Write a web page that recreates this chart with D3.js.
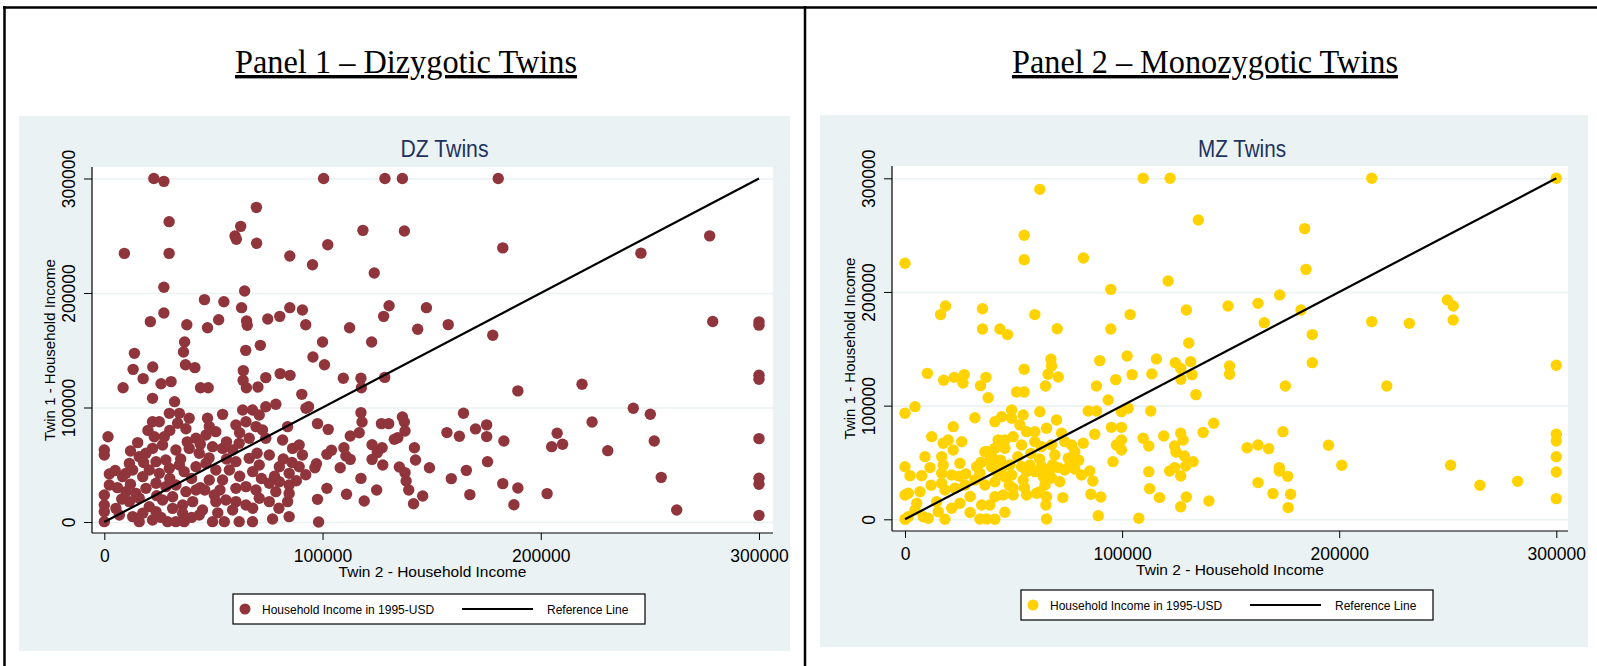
<!DOCTYPE html>
<html>
<head>
<meta charset="utf-8">
<script src="https://cdnjs.cloudflare.com/ajax/libs/d3/7.8.5/d3.min.js"></script>
<style>
  body { margin: 0; background: #fff; }
  svg { display: block; }
  .panel-title { font-family: "Liberation Serif", "Times New Roman", serif; text-decoration: underline; }
  .stata { font-family: "Liberation Sans", Arial, sans-serif; }
</style>
</head>
<body>
<div id="chart"></div>
<script>
// household income, twin 2 (x) vs twin 1 (y), 1995 USD
var dzPoints = [
  [22700,300000],[27300,297500],[100500,300000],[128600,300000],[136600,300000],
  [69700,274800],[29700,262300],[62500,258200],[59900,249800],[60500,246900],
  [118500,254700],[137500,254100],[9200,234600],[29700,234600],[69800,243400],
  [102400,242200],[85000,232300],[95400,224700],[123700,217500],[27300,205000],
  [64300,201700],[45900,194200],[54800,192400],[62900,187200],[27300,182500],
  [21100,175000],[37800,172300],[47300,169700],[52400,176700],[65200,175500],
  [65500,171800],[74900,177300],[80400,179600],[85000,187200],[90800,185200],
  [92300,172300],[112400,169700],[130500,188900],[128000,179600],[147600,187200],
  [143600,168300],[122500,157200],[100000,157200],[36800,157200],[36300,148500],
  [13800,147300],[64800,149900],[71500,154300],[95600,144100],[100900,137400],
  [13200,133300],[22200,135400],[37200,137400],[41500,134800],[17800,125200],
  [8600,117300],[26000,120800],[30600,122600],[44100,117300],[47600,117300],
  [63700,132200],[63600,123700],[65100,117300],[70400,117900],[74000,126100],
  [80600,129600],[85100,128100],[90500,111500],[93600,100700],[109500,125500],
  [117600,125500],[117800,117300],[128500,126300],
  [97700,85900],[102600,80900],[117600,95500],[118100,87300],[127000,85900],
  [130300,85900],[136600,91700],[137500,87300],[137800,79500],[112700,75100],
  [116800,78000],[132900,72200],[134500,73700],[122700,67500],[127300,64900],
  [125100,60600],[142100,64900],[142600,54100],[149000,47400],[104100,62600],
  [102000,59100],[109800,64900],[110700,57600],[112700,54700],[108100,47400],
  [122700,54700],[127600,49800],[135200,48000],[137800,43100],[117600,38100],
  [92300,41300],[97200,50900],[96500,47400],[102000,29400],[111000,24200],
  [119100,18300],[124800,27900],[138300,35800],[139500,27900],[145900,22700],
  [141700,16000],[97700,19800],[98200,0],
  [180500,300000],[182600,239400],[245900,234800],[277400,249900],[157600,172400],
  [178000,163100],[278800,175100],[300000,174800],[300000,171900],[189500,114500],
  [218900,120300],[300000,128200],[300000,124700],[164600,95000],[157000,78100],
  [162700,74900],[170100,81300],[175200,84800],[175200,74600],[183100,70800],
  [207500,77500],[205000,65800],[210000,67900],[223500,87400],[230700,62300],
  [242400,99300],[250200,94100],[252000,70800],[300000,72800],[159000,37900],
  [165900,45100],[175600,52700],[167500,23900],[182600,33500],[189500,29700],
  [187700,15100],[202900,24800],[255200,39000],[262300,10500],[300000,38200],
  [300000,32900],[300000,5800],
  [22100,108000],[32200,105100],[29800,94900],[34400,94900],[38900,90600],
  [37400,81500],[33600,86200],[22100,87600],[25200,87600],[47300,90600],
  [48100,83300],[54200,94000],[63400,97800],[67900,97800],[71000,93400],
  [74000,100700],[78600,102800],[60300,84700],[64900,87600],[69500,83300],
  [92400,99300],[1700,74500],[15300,69300],[22900,74500],[27500,74500],
  [22100,64300],[26700,67200],[0,62900],[0,58500],[42000,73100],
  [46600,76000],[51100,78900],[49600,65800],[54200,64300],[58800,62900],
  [61800,68700],[66400,73100],[72500,80300],[74000,73100],[81700,71600],
  [84000,83300],[86300,64300],[89300,67200],[90800,58500],[16000,57100],
  [19100,60000],[32800,62900],[38900,64300],[43500,60000],[23700,52700],
  [28200,54100],[34400,49800],[11500,51200],[9900,42500],[8400,39600],
  [2300,41900],[13000,45400],[17600,39600],[20600,45400],[25200,42500],
  [29800,46900],[36600,44000],[42000,48300],[46600,51200],[51100,45400],
  [57300,45400],[60300,52700],[66400,55600],[71000,49800],[75600,58500],
  [80200,48300],[84700,42500],[89300,48300],[2300,32300],[9900,26500],
  [14500,25000],[19100,29400],[23700,33800],[28200,30900],[32800,32300],
  [37400,26500],[42000,27900],[48100,36700],[54200,36700],[60300,29400],
  [64900,30900],[69500,27900],[75600,33800],[80200,35200],[84700,32300],
  [0,23600],[0,14800],[0,9000],[5300,11900],[11500,17800],
  [16000,20700],[20600,13400],[26700,19200],[31300,22100],[35900,14800],
  [40500,17800],[45000,10500],[50400,23600],[51100,17800],[55700,19200],
  [60300,17800],[64900,14800],[71000,20700],[75600,17800],[78600,26500],
  [84000,17800],[84700,25000],[6900,6100],[13000,4700],[17600,7600],
  [23700,9000],[31300,11900],[35900,7600],[43500,6100],[49600,300],
  [55000,300],[58800,10500],[61800,300],[67900,300],[77100,2600],
  [84700,4700],[0,300],[16000,300],[22100,1700],[29000,300],
  [32800,300],[36600,300],
  [5000,45000],[12000,33000],[18000,52000],[24000,23000],[30000,38000],
  [35000,55000],[40000,38000],[44000,30000],[48000,56000],[53000,28000],
  [56000,55000],[62000,40000],[68000,44000],[72000,38000],[78000,40000],
  [82000,55000],[86000,52000],[44000,68000],[56000,70000],[38000,70000],
  [30000,80000],[62000,78000],[70000,60000],[8000,20000],[26000,4000],
  [40000,4000],[46000,28000],[52000,8000],[68000,12000],[80000,12000],
  [88000,36000],[20000,80000],[12000,62000],[6000,30000]
];

var mzPoints = [
  [62100,290300],[109700,300000],[122100,300000],[135100,263300],[54900,249900],
  [54900,228400],[0,225200],[82200,229900],[121200,209700],[94800,202300],
  [148800,187700],[18700,187700],[16400,180100],[35700,185300],[35700,167400],
  [43700,167400],[47200,162500],[59800,180100],[70100,167700],[94800,167400],
  [103700,180100],[129600,184200],[130700,155100],[67200,140800],[67500,134900],
  [65900,127600],[70600,125200],[64700,117300],[54900,132000],[89700,139600],
  [97100,122900],[88200,117300],[102300,143700],[104600,127300],[115800,141100],
  [113700,127900],[124500,137800],[127000,132800],[127100,123200],[131600,138700],
  [132200,127300],[134000,109700],[149500,134900],[149500,127600],[10300,128400],
  [17800,122300],[22700,124900],[27300,127300],[26700,119900],[34800,117600],
  [37300,124900],[51400,112000],[54900,112000],
  [113200,95300],[142200,84500],[137300,76500],[109700,71300],[112300,64500],
  [119200,73300],[127000,75700],[128100,69800],[124200,64500],[124800,59200],
  [128700,55700],[132700,50700],[129300,46900],[121900,42500],[124200,45500],
  [127000,38100],[112300,41900],[112700,27000],[117200,19100],[129600,19600],
  [127000,11100],[140000,16100],[107700,900],
  [215000,300000],[300000,300000],[184100,255700],[184700,219900],[172600,197400],
  [162600,190000],[165500,173000],[182400,184200],[187600,162500],[187600,137800],
  [215000,173900],[232300,172400],[249800,193000],[252500,187700],[252500,175400],
  [175200,117300],[221900,117300],[300000,135500],
  [174100,77100],[157600,63000],[162600,65400],[167500,62200],[195100,65100],
  [172400,45500],[172400,42500],[176300,37800],[201200,47500],[162600,32300],
  [169500,22600],[177600,22000],[176500,10300],[251300,47500],[264800,29900],
  [282200,33400],[300000,74800],[300000,68900],[300000,55100],[300000,41600],
  [300000,18200],
  [0,93300],[4600,99100],[32200,89400],[22200,81500],[12300,72700],
  [17600,66900],[19900,69800],[26100,68300],[22200,61000],[38300,107000],
  [49100,96200],[44500,90300],[41400,85900],[49100,88900],[54400,91800],
  [62100,94700],[69800,87400],[52900,83000],[56000,77100],[59800,77100],
  [65200,80100],[72100,75700],[49800,72700],[46000,69800],[42900,69800],
  [41400,62500],[38300,59500],[46000,62500],[53700,65400],[59800,68300],
  [62900,63900],[67500,65400],[69000,56600],[73600,68300],[76700,65400],
  [78200,59500],[82100,66900],[75200,53700],[87400,74800],[84400,95300],
  [88200,95300],[93600,105000],[99700,94700],[95100,80900],[99700,80900],
  [99700,69800],[97400,65400],[99700,61000],[95800,50700],[102800,97700],
  [0,46300],[2300,38400],[7700,38400],[9200,55100],[11500,45500],
  [16900,55100],[17600,47800],[16900,40500],[21500,39000],[25300,49300],
  [16900,31700],[18400,25800],[23000,27300],[27600,30200],[33000,46300],
  [34500,40500],[32200,34600],[36800,59500],[39100,52200],[39900,46300],
  [42200,41900],[44500,44900],[46000,37500],[48300,47800],[49100,39000],
  [41400,33100],[36800,30200],[53700,46300],[56000,41900],[57500,47800],
  [54400,34600],[59800,41900],[62900,46300],[63700,37500],[66700,43400],
  [70600,45500],[73600,43400],[78200,44300],[81300,39000],[85100,42500],
  [67500,36400],[71300,33100],[49800,27300],[49800,21400],[45200,21400],
  [56000,21400],[60600,22900],[65200,19900],[64500,30200],[72700,19100],
  [86500,33700],[85600,22000],[90200,19600],[89000,3200],[65200,300],
  [0,21400],[1500,22900],[5400,14100],[6900,24300],[14600,15500],
  [4600,8200],[0,0],[1500,2300],[8400,2300],[10700,900],[15300,6700],
  [18400,0],[21500,9700],[25300,14100],[35300,12600],[39100,12600],
  [41400,19900],[46000,6200],[34500,300],[37600,300],[41400,0],[64900,12600],
  [28000,40000],[30000,20000],[40000,55000],[52000,55000],[58000,58000],
  [62000,53000],[48000,30000],[55000,28000],[12000,30000],[25000,38000],
  [35000,50000],[44000,52000],[68000,48000],[76000,48000],[80000,52000],
  [62000,24000],[30000,6000]
];

var refLine = [[0, 0], [300000, 300000]];
var tickValues = [0, 100000, 200000, 300000];
var legendLabels = ["Household Income in 1995-USD", "Reference Line"];

var width = 1597, height = 666;

var panels = [
  {title: "Panel 1 \u2013 Dizygotic Twins", titleX: 406, titleLen: 342,
   sub: "DZ Twins", color: "#90353b",
   bg: [19, 116, 790, 651], plot: [92, 167, 773, 533],
   xRange: [104.3, 759], yRange: [522, 178.5], legend: [233, 594], points: dzPoints},
  {title: "Panel 2 \u2013 Monozygotic Twins", titleX: 1205, titleLen: 386,
   sub: "MZ Twins", color: "#ffd200",
   bg: [820, 115, 1588, 647], plot: [892, 166, 1568, 531],
   xRange: [905, 1556.3], yRange: [519.3, 178.3], legend: [1021, 590], points: mzPoints}
];

var svg = d3.select("#chart").append("svg")
    .attr("width", width)
    .attr("height", height);

// table borders
svg.append("line").attr("x1", 3).attr("x2", width).attr("y1", 7.5).attr("y2", 7.5)
    .attr("stroke", "#000").attr("stroke-width", 2.5);
svg.append("line").attr("x1", 4.5).attr("x2", 4.5).attr("y1", 6).attr("y2", height)
    .attr("stroke", "#000").attr("stroke-width", 2.5);
svg.append("line").attr("x1", 805).attr("x2", 805).attr("y1", 6).attr("y2", height)
    .attr("stroke", "#000").attr("stroke-width", 2.5);

panels.forEach(function(p) { drawPanel(p); });

function drawPanel(p) {
  var x = d3.scaleLinear().domain([0, 300000]).range(p.xRange);
  var y = d3.scaleLinear().domain([0, 300000]).range(p.yRange);
  var px0 = p.plot[0], py0 = p.plot[1], px1 = p.plot[2], py1 = p.plot[3];
  var midX = (px0 + px1) / 2;

  svg.append("text")
      .attr("class", "panel-title")
      .attr("x", p.titleX)
      .attr("y", 73)
      .attr("text-anchor", "middle")
      .attr("font-size", 34)
      .attr("textLength", p.titleLen)
      .attr("lengthAdjust", "spacingAndGlyphs")
      .text(p.title);

  var g = svg.append("g").attr("class", "stata");

  g.append("rect")
      .attr("x", p.bg[0]).attr("y", p.bg[1])
      .attr("width", p.bg[2] - p.bg[0]).attr("height", p.bg[3] - p.bg[1])
      .attr("fill", "#eaf2f3");

  g.append("rect")
      .attr("x", px0).attr("y", py0)
      .attr("width", px1 - px0).attr("height", py1 - py0)
      .attr("fill", "#fff");

  g.append("text")
      .attr("x", midX + 12).attr("y", 157)
      .attr("text-anchor", "middle")
      .attr("font-size", 23.5)
      .attr("fill", "#1e3260")
      .attr("textLength", 88)
      .attr("lengthAdjust", "spacingAndGlyphs")
      .text(p.sub);

  // horizontal grid lines
  var grid = g.append("g")
      .attr("transform", "translate(" + px0 + ",0)")
      .call(d3.axisLeft(y).tickValues(tickValues).tickSize(-(px1 - px0)).tickFormat(""));
  grid.select(".domain").remove();
  grid.selectAll("line").attr("stroke", "#eaf2f3").attr("stroke-width", 1.6);

  // y axis
  var yAxis = g.append("g")
      .attr("transform", "translate(" + px0 + ",0)")
      .call(d3.axisLeft(y).tickValues(tickValues).tickFormat(d3.format("d")).tickSize(8));
  yAxis.select(".domain").remove();
  yAxis.selectAll("line").attr("stroke", "#000");
  yAxis.selectAll("text")
      .attr("transform", "rotate(-90)")
      .attr("x", 0).attr("y", -17).attr("dy", 0)
      .attr("text-anchor", "middle")
      .attr("font-size", 17.5)
      .attr("font-family", null)
      .attr("fill", "#000");

  // x axis
  var xAxis = g.append("g")
      .attr("transform", "translate(0," + py1 + ")")
      .call(d3.axisBottom(x).tickValues(tickValues).tickFormat(d3.format("d")).tickSize(7));
  xAxis.select(".domain").remove();
  xAxis.selectAll("line").attr("stroke", "#000");
  xAxis.selectAll("text")
      .attr("y", 29).attr("dy", 0)
      .attr("font-size", 17.5)
      .attr("font-family", null)
      .attr("fill", "#000");

  g.append("line").attr("x1", px0).attr("x2", px0).attr("y1", py0).attr("y2", py1)
      .attr("stroke", "#000").attr("stroke-width", 1.2);
  g.append("line").attr("x1", px0).attr("x2", px1).attr("y1", py1).attr("y2", py1)
      .attr("stroke", "#000").attr("stroke-width", 1.2);

  // axis titles
  g.append("text")
      .attr("transform", "translate(" + (px0 - 37) + "," + ((py0 + py1) / 2) + ") rotate(-90)")
      .attr("text-anchor", "middle")
      .attr("font-size", 15)
      .text("Twin 1 - Household Income");

  g.append("text")
      .attr("x", midX).attr("y", py1 + 44)
      .attr("text-anchor", "middle")
      .attr("font-size", 15.5)
      .text("Twin 2 - Household Income");

  // scatter
  g.append("g").selectAll("circle")
      .data(p.points)
      .enter().append("circle")
      .attr("cx", function(d) { return x(d[0]); })
      .attr("cy", function(d) { return y(d[1]); })
      .attr("r", 5.7)
      .attr("fill", p.color);

  g.append("path")
      .datum(refLine)
      .attr("d", d3.line().x(function(d) { return x(d[0]); }).y(function(d) { return y(d[1]); }))
      .attr("stroke", "#000")
      .attr("stroke-width", 2.2)
      .attr("fill", "none");

  // legend
  var lh = 30, lw = 412;
  var legend = g.append("g").attr("transform", "translate(" + p.legend[0] + "," + p.legend[1] + ")");
  legend.append("rect")
      .attr("width", lw).attr("height", lh)
      .attr("fill", "#fff").attr("stroke", "#000").attr("stroke-width", 1.2);
  legend.append("circle")
      .attr("cx", 12).attr("cy", lh / 2).attr("r", 5.5)
      .attr("fill", p.color);
  legend.append("text")
      .attr("x", 29).attr("y", lh / 2 + 4.5)
      .attr("font-size", 12)
      .text(legendLabels[0]);
  legend.append("line")
      .attr("x1", 229).attr("x2", 300).attr("y1", lh / 2).attr("y2", lh / 2)
      .attr("stroke", "#000").attr("stroke-width", 2);
  legend.append("text")
      .attr("x", 314).attr("y", lh / 2 + 4.5)
      .attr("font-size", 12)
      .text(legendLabels[1]);
}
</script>
</body>
</html>
